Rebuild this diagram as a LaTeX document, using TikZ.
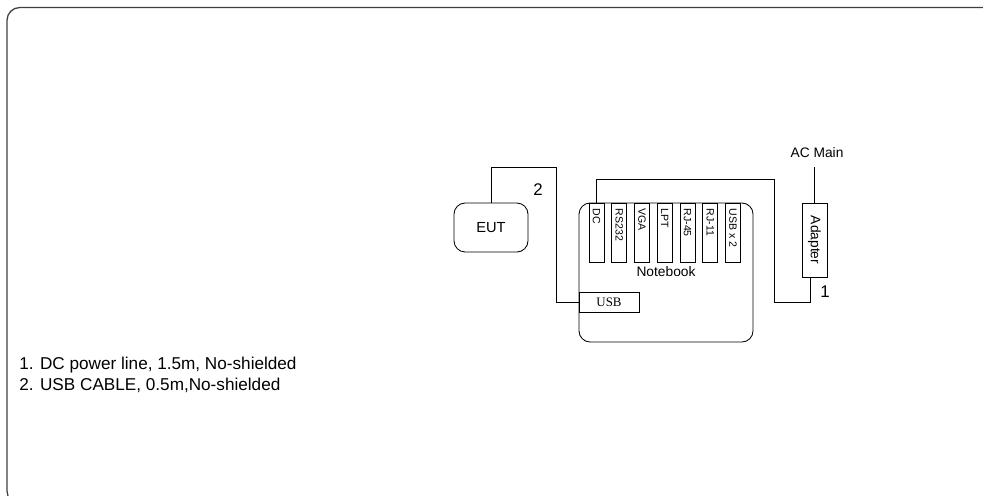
\documentclass[tikz,border=0pt]{standalone}
\usepackage{fontspec}
\setmainfont{Liberation Sans}
\newfontfamily\usbfont{Liberation Serif}
\begin{document}
\begin{tikzpicture}[
  x=0.025cm,y=-0.025cm,
  line width=0.6pt,
  unit/.style={draw, rounded corners=0.28cm, inner sep=0pt, font=\fontsize{10.4}{12}\selectfont},
  port/.style={draw, fill=white, inner sep=0pt, minimum width=0.375cm, minimum height=1.475cm},
  portlbl/.style={rotate=-90, anchor=west, inner sep=0pt, font=\fontsize{7.5}{9}\selectfont},
  plug/.style={draw, fill=white, inner sep=0pt, minimum width=1.5cm, minimum height=0.5cm, font=\usbfont\fontsize{9.2}{11}\selectfont},
  cable/.style={draw, line width=0.6pt},
  num/.style={font=\fontsize{12}{14}\selectfont, inner sep=0pt},
  lbl/.style={font=\fontsize{9.8}{12}\selectfont, inner sep=0pt},
  legend/.style={font=\fontsize{12.2}{14}\selectfont, inner sep=0pt, anchor=west}
]
\useasboundingbox (0,0) rectangle (983,495);
\begin{scope}
\clip (0,0) rectangle (983,495);
\draw[line width=0.9pt, black!75, rounded corners=0.32cm] (1000,504) -- (7,504) -- (7,7.5) -- (1000,7.5);
\end{scope}

\node[unit, minimum width=1.85cm, minimum height=1.225cm] (eut) at (491,227.5) {EUT};
\node[unit, minimum width=4.35cm, minimum height=3.475cm] (nb) at (666,272.5) {};
\node[lbl] (nblbl) at (666,272) {Notebook};

\foreach \lbl [count=\i] in {DC,RS232,VGA,LPT,RJ-45,RJ-11,USB x 2} {
  \node[port] (p\i) at ({596.5+22.75*(\i-1)},232.5) {};
  \node[portlbl] at ([yshift=-4]p\i.north) {\lbl};
}

\node[plug] (usb) at (609,302) {USB};

\node[draw, inner sep=0pt, minimum width=0.625cm, minimum height=1.85cm] (adp) at (814.5,240) {};
\node[rotate=-90, lbl] at (adp.center) {Adapter};
\coordinate (ac) at (814.5,167);
\node[lbl] (acmain) at (817,153) {AC Main};

\draw[cable] (eut.north) |- (556,167) |- (usb.west);
\draw[cable] (p1.north) |- (774,179) |- (810,302) -- (810,277);
\draw[cable] (adp.north) -- (ac);

\node[num] (n2) at (538,190) {2};
\node[num] (n1) at (825,292) {1};

\node[legend] (leg1) at (19,365) {1. DC power line, 1.5m, No-shielded};
\node[legend] (leg2) at (19,385) {2. USB CABLE, 0.5m,No-shielded};
\end{tikzpicture}
\end{document}
